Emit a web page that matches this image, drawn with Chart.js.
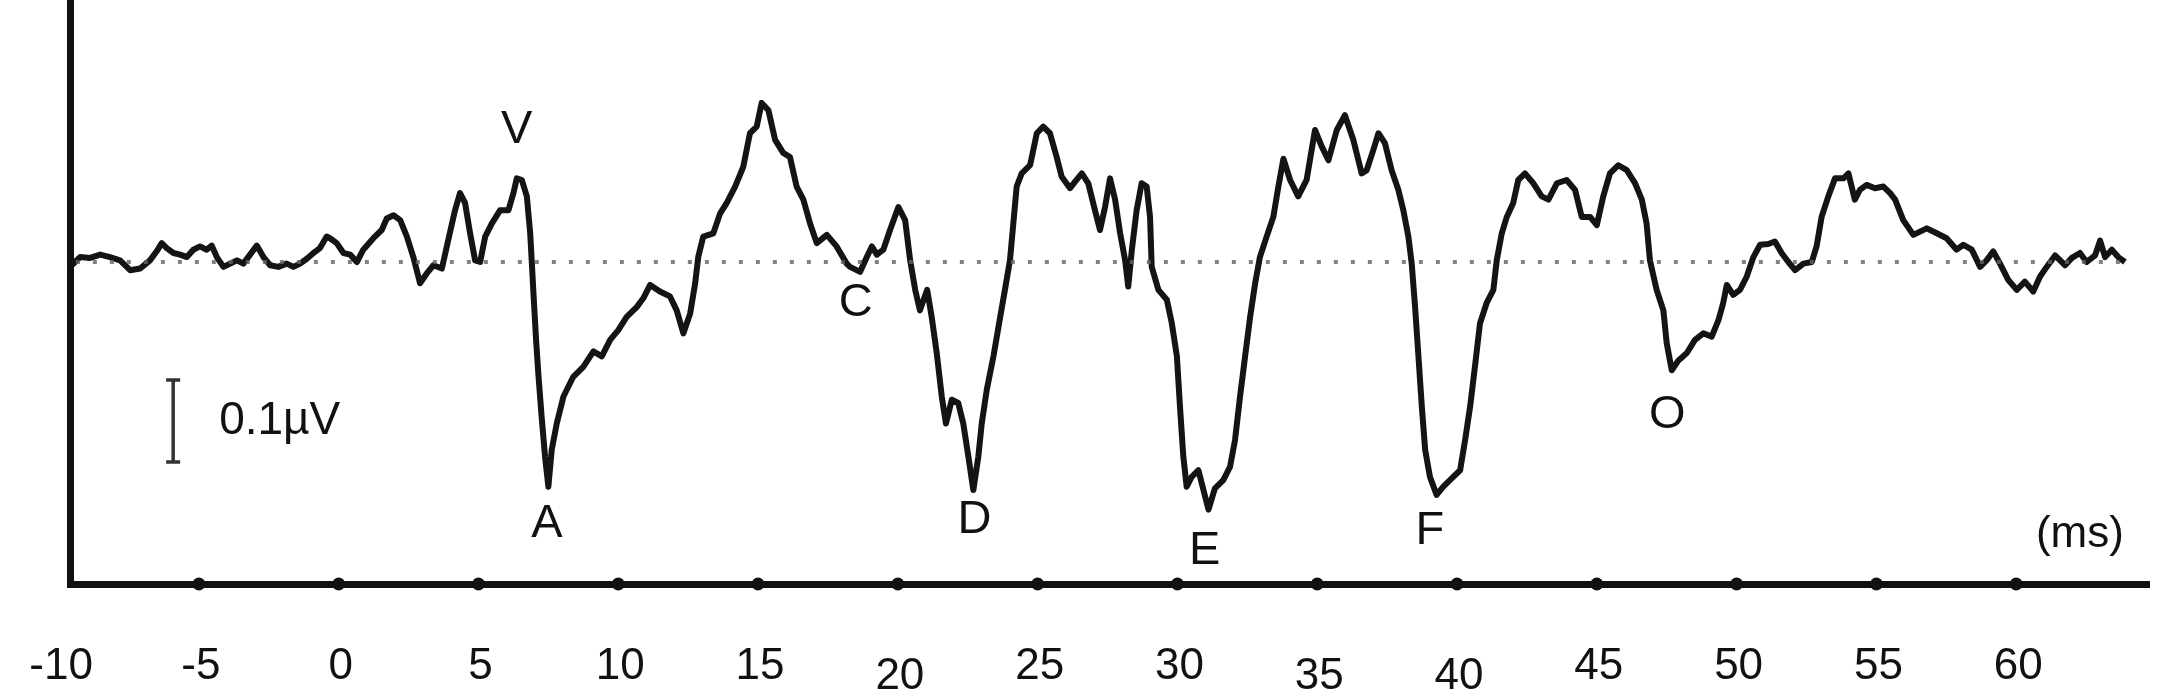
<!DOCTYPE html>
<html lang="en">
<head>
    <meta charset="UTF-8">
    <title>Evoked potential</title>
    <script src="https://cdn.jsdelivr.net/npm/chart.js@4.4.1/dist/chart.umd.min.js"></script>
    <style>
        html, body {
            margin: 0;
            padding: 0;
            background: #ffffff;
        }

        .chart-box {
            width: 2167px;
            height: 699px;
            position: relative;
        }
    </style>
</head>
<body>
    <div class="chart-box">
        <canvas id="chart"></canvas>
    </div>

    <script>
        // latency (ms) of each sample
        const latencyMs = [
            -9.61, -9.43, -9.25, -8.89, -8.53, -8.18, -7.82, -7.46, -7.10, -6.75, -6.51, -6.33, -6.15, -5.91, -5.67, -5.43, -5.20, -4.96, -4.72, -4.54, -4.36, -4.12, -3.88, -3.64, -3.41, -3.17, -2.93, -2.69, -2.45, -2.16, -1.86, -1.62, -1.38, -1.14, -0.90, -0.67, -0.43,
            -0.31, -0.07, 0.17, 0.41, 0.65, 0.88, 1.24, 1.54, 1.72, 1.96, 2.20, 2.44, 2.67, 2.91, 3.15, 3.39, 3.69, 3.92, 4.16, 4.34, 4.52, 4.70, 4.88, 5.06, 5.24, 5.48, 5.77, 6.07, 6.25, 6.37, 6.55, 6.73, 6.85, 6.91, 6.96, 7.06, 7.14, 7.26, 7.38, 7.50, 7.62, 7.80, 8.04, 8.39, 8.75,
            9.11, 9.41, 9.71, 10.00, 10.30, 10.66, 10.90, 11.14, 11.49, 11.85, 12.09, 12.33, 12.57, 12.75, 12.86, 13.04, 13.40, 13.64, 13.88, 14.18, 14.47, 14.71, 14.95, 15.13, 15.37, 15.61, 15.90, 16.14, 16.38, 16.62, 16.86, 17.10, 17.46, 17.81, 18.17,
            18.29, 18.65, 18.89, 19.07, 19.25, 19.48, 19.72, 20.02, 20.26, 20.44, 20.62, 20.79, 21.05, 21.21, 21.39, 21.57, 21.72, 21.93, 22.16, 22.34, 22.52, 22.70, 22.88, 23.00, 23.18, 23.42, 23.66, 23.83, 24.01, 24.13, 24.25, 24.43, 24.73, 24.97, 25.20, 25.44, 25.68, 25.86, 26.16, 26.34, 26.58, 26.81, 27.05, 27.23, 27.41, 27.59,
            27.77, 27.95, 28.13, 28.24, 28.37, 28.54, 28.72, 28.90, 29.02, 29.08, 29.32, 29.62, 29.80, 29.98, 30.09, 30.21, 30.33, 30.51, 30.75, 30.93, 31.11, 31.34, 31.64, 31.88, 32.06, 32.24, 32.42, 32.60, 32.78, 32.95, 33.19, 33.43, 33.61, 33.79, 34.03, 34.32, 34.62, 34.92, 35.16, 35.40, 35.70, 35.99, 36.29, 36.59,
            36.77, 37.01, 37.19, 37.42, 37.66, 37.90, 38.08, 38.26, 38.38, 38.50, 38.62, 38.74, 38.86, 39.03, 39.27, 39.51, 39.81, 40.11, 40.29, 40.47, 40.64, 40.82, 41.06, 41.30, 41.42, 41.60, 41.78, 42.01, 42.19, 42.43, 42.73, 43.03, 43.27, 43.57, 43.92, 44.22, 44.46, 44.76, 45.00, 45.23, 45.47, 45.77, 46.07,
            46.37, 46.61, 46.78, 46.90, 47.14, 47.38, 47.50, 47.68, 47.92, 48.22, 48.51, 48.81, 49.11, 49.35, 49.52, 49.65, 49.88, 50.12, 50.36, 50.60, 50.84, 51.13, 51.37, 51.61, 51.85, 52.09, 52.39, 52.69, 52.86, 53.04, 53.28, 53.52, 53.82, 54.00, 54.23, 54.41, 54.65, 54.95, 55.25,
            55.49, 55.67, 55.96, 56.32, 56.80, 57.16, 57.51, 57.87, 58.11, 58.41, 58.71, 58.94, 59.18, 59.42, 59.72, 60.02, 60.31, 60.61, 60.85, 61.09, 61.39, 61.75, 61.99, 62.28, 62.52, 62.82, 63.00, 63.18, 63.42, 63.65, 63.89
        ];

        // amplitude (uV) relative to the dotted baseline
        const amplitudeUv = [
            -0.006, 0.000, 0.006, 0.005, 0.009, 0.006, 0.002, -0.010, -0.008, 0.002, 0.013, 0.023, 0.017, 0.011, 0.009, 0.006, 0.015, 0.019, 0.015, 0.020, 0.006, -0.006, -0.002, 0.002, -0.002, 0.009, 0.020, 0.006, -0.004, -0.006, -0.002, -0.006, -0.002, 0.004, 0.011, 0.017, 0.031,
            0.029, 0.023, 0.011, 0.009, 0.000, 0.015, 0.029, 0.039, 0.053, 0.057, 0.051, 0.031, 0.006, -0.026, -0.014, -0.004, -0.008, 0.027, 0.063, 0.084, 0.072, 0.035, 0.002, 0.000, 0.031, 0.047, 0.063, 0.063, 0.084, 0.102, 0.100, 0.080, 0.035, -0.002, -0.034, -0.095, -0.136, -0.189, -0.237, -0.274, -0.229, -0.197, -0.164, -0.140, -0.128,
            -0.109, -0.115, -0.095, -0.083, -0.067, -0.055, -0.044, -0.028, -0.036, -0.042, -0.059, -0.087, -0.063, -0.026, 0.006, 0.031, 0.035, 0.059, 0.072, 0.092, 0.116, 0.157, 0.165, 0.194, 0.185, 0.149, 0.133, 0.128, 0.092, 0.076, 0.047, 0.023, 0.033, 0.019, -0.002,
            -0.006, -0.012, 0.006, 0.019, 0.009, 0.015, 0.039, 0.067, 0.051, 0.002, -0.034, -0.059, -0.034, -0.067, -0.111, -0.164, -0.197, -0.168, -0.172, -0.197, -0.237, -0.278, -0.237, -0.197, -0.156, -0.115, -0.067, -0.034, 0.002, 0.047, 0.092, 0.108, 0.118, 0.157, 0.165, 0.157, 0.128, 0.104, 0.090, 0.098, 0.108, 0.096, 0.063, 0.039, 0.067, 0.102,
            0.076, 0.035, 0.002, -0.030, 0.015, 0.063, 0.096, 0.092, 0.055, -0.006, -0.034, -0.046, -0.075, -0.115, -0.176, -0.237, -0.274, -0.262, -0.254, -0.278, -0.302, -0.276, -0.266, -0.250, -0.217, -0.164, -0.115, -0.067, -0.026, 0.006, 0.031, 0.055, 0.092, 0.126, 0.100, 0.080, 0.100, 0.161, 0.141, 0.124, 0.161, 0.179, 0.149, 0.108,
            0.112, 0.137, 0.157, 0.145, 0.112, 0.088, 0.063, 0.031, -0.002, -0.055, -0.115, -0.176, -0.229, -0.262, -0.284, -0.274, -0.264, -0.254, -0.217, -0.176, -0.128, -0.075, -0.050, -0.034, 0.002, 0.035, 0.055, 0.072, 0.100, 0.108, 0.096, 0.080, 0.076, 0.096, 0.100, 0.088, 0.055, 0.055, 0.045, 0.080, 0.108, 0.118, 0.112,
            0.096, 0.076, 0.047, 0.002, -0.034, -0.059, -0.099, -0.132, -0.120, -0.111, -0.095, -0.087, -0.091, -0.071, -0.050, -0.028, -0.040, -0.034, -0.018, 0.006, 0.021, 0.022, 0.025, 0.011, 0.000, -0.010, -0.002, 0.000, 0.019, 0.055, 0.080, 0.102, 0.102, 0.108, 0.076, 0.088, 0.094, 0.090, 0.092,
            0.084, 0.076, 0.051, 0.033, 0.041, 0.035, 0.029, 0.015, 0.021, 0.015, -0.006, 0.002, 0.013, -0.002, -0.022, -0.034, -0.024, -0.036, -0.018, -0.006, 0.008, -0.004, 0.005, 0.011, 0.000, 0.008, 0.026, 0.006, 0.015, 0.006, 0.000
        ];

        // x axis tick labels (ms)
        const tickMs = [-10, -5, 0, 5, 10, 15, 20, 25, 30, 35, 40, 45, 50, 55, 60];
        // labels that sit a little lower in the original figure
        const loweredTicks = [20, 35, 40];

        // wave labels and where their text sits (ms, uV)
        const peakNames = ['V', 'A', 'C', 'D', 'E', 'F', 'O'];
        const peakMs = [6.37, 7.45, 18.49, 22.74, 30.97, 39.03, 47.52];
        const peakUv = [0.161, -0.320, -0.050, -0.315, -0.352, -0.328, -0.187];

        // calibration bar: 0.1 uV
        const calibMs = -5.92;
        const calibUv = [-0.144, -0.244];

        const baselineMs = [-9.4, 64.1];

        const FONT = '"Liberation Sans", Arial, Helvetica, sans-serif';

        // Draw tick dots, tick labels, wave letters and the calibration bar
        const annotations = {
            id: 'annotations',
            afterDraw(chart) {
                const ctx = chart.ctx;
                const xs = chart.scales.x;
                const ys = chart.scales.y;
                const bottom = chart.chartArea.bottom;

                ctx.save();

                // dots on the time axis
                ctx.fillStyle = '#111';
                tickMs.forEach((t) => {
                    if (t <= xs.min) return;
                    ctx.beginPath();
                    ctx.arc(xs.getPixelForValue(t), bottom, 6.5, 0, Math.PI * 2);
                    ctx.fill();
                });

                // tick labels
                ctx.font = '44px ' + FONT;
                ctx.textAlign = 'center';
                ctx.textBaseline = 'middle';
                tickMs.forEach((t) => {
                    const drop = loweredTicks.includes(t) ? 10 : 0;
                    ctx.fillText(String(t), xs.getPixelForValue(t) + 2, bottom + 83 + drop);
                });

                // wave letters
                ctx.font = '47px ' + FONT;
                peakNames.forEach((name, i) => {
                    ctx.fillText(name, xs.getPixelForValue(peakMs[i]), ys.getPixelForValue(peakUv[i]));
                });

                // unit label
                ctx.font = '44px ' + FONT;
                ctx.fillText('(ms)', xs.getPixelForValue(62.28), ys.getPixelForValue(-0.333));

                // calibration bar
                const bx = xs.getPixelForValue(calibMs);
                const by1 = ys.getPixelForValue(calibUv[0]);
                const by2 = ys.getPixelForValue(calibUv[1]);
                ctx.strokeStyle = '#333';
                ctx.lineWidth = 3.5;
                ctx.beginPath();
                ctx.moveTo(bx, by1);
                ctx.lineTo(bx, by2);
                ctx.moveTo(bx - 7, by1);
                ctx.lineTo(bx + 7, by1);
                ctx.moveTo(bx - 7, by2);
                ctx.lineTo(bx + 7, by2);
                ctx.stroke();

                ctx.font = '46px ' + FONT;
                ctx.textAlign = 'left';
                ctx.fillText('0.1\u00b5V', bx + 46, (by1 + by2) / 2);

                ctx.restore();
            }
        };

        const trace = latencyMs.map((t, i) => ({ x: t, y: amplitudeUv[i] }));
        const baseline = baselineMs.map((t) => ({ x: t, y: 0 }));

        const chartConfig = {
            type: 'line',
            data: {
                datasets: [
                    {
                        label: 'baseline',
                        data: baseline,
                        borderColor: 'rgba(100, 100, 100, 0.8)',
                        borderWidth: 4,
                        borderDash: [4, 13],
                        pointRadius: 0,
                    },
                    {
                        label: 'response',
                        data: trace,
                        borderColor: '#141414',
                        borderWidth: 6,
                        borderJoinStyle: 'round',
                        pointRadius: 0,
                        tension: 0,
                    },
                ],
            },
            options: {
                responsive: true,
                maintainAspectRatio: false,
                animation: false,
                events: [],
                layout: {
                    autoPadding: false,
                    padding: { left: 70, right: 18, top: 0, bottom: 115 },
                },
                plugins: {
                    legend: { display: false },
                    tooltip: { enabled: false },
                },
                scales: {
                    x: {
                        type: 'linear',
                        min: -9.61,
                        max: 64.75,
                        grid: { display: false, drawTicks: false },
                        ticks: { display: false },
                        border: { display: true, color: '#111', width: 7 },
                    },
                    y: {
                        type: 'linear',
                        min: -0.3927,
                        max: 0.3195,
                        grid: { display: false, drawTicks: false },
                        ticks: { display: false },
                        border: { display: true, color: '#111', width: 7 },
                    },
                },
            },
            plugins: [annotations],
        };

        new Chart(document.getElementById('chart'), chartConfig);
    </script>
</body>
</html>
